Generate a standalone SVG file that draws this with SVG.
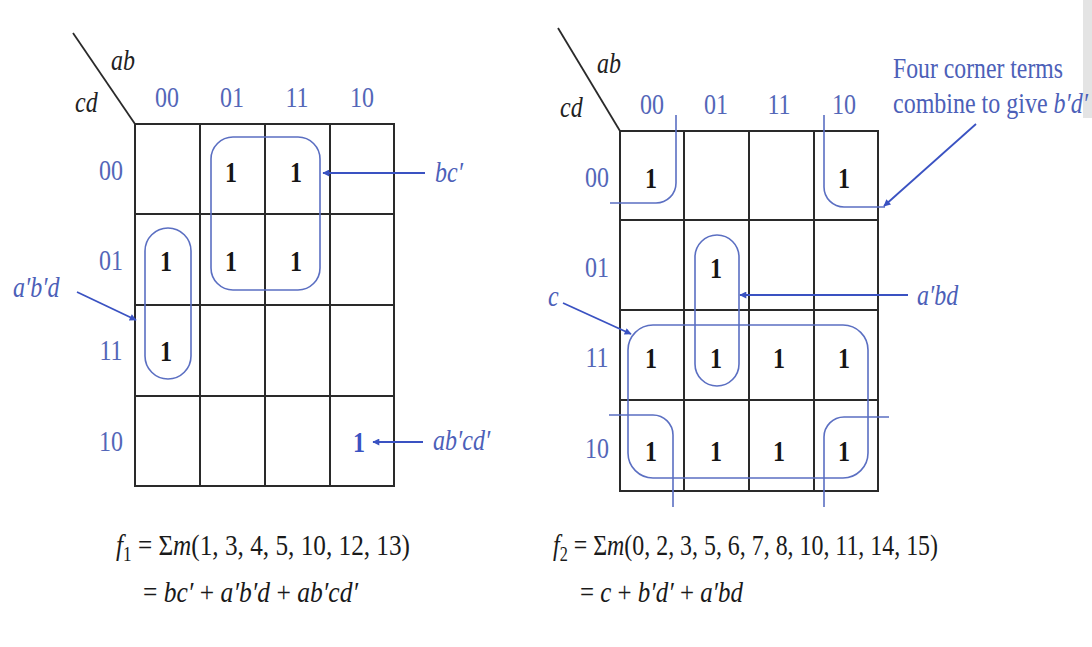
<svg xmlns="http://www.w3.org/2000/svg" width="1092" height="647" viewBox="0 0 1092 647">
<defs>
<marker id="ah" viewBox="0 0 10 10" refX="9" refY="5" markerWidth="9" markerHeight="7" markerUnits="userSpaceOnUse" orient="auto">
<path d="M0,0 L10,5 L0,10 z" fill="#3a52c2"/>
</marker>
</defs>
<style>
text{font-family:"Liberation Serif","Times New Roman",serif}
.lbl{font-size:24px;fill:#5366b8;text-anchor:middle}
.var{font-size:24px;font-style:italic;fill:#222}
.one{font-size:24px;font-weight:bold;fill:#151515;text-anchor:middle}
.note{font-size:24px;font-style:italic;fill:#4c60b8}
.noteu{font-size:24px;fill:#4c60b8}
.eq{font-size:25px;fill:#1a1a1a}
.i{font-style:italic}
.grid{fill:none;stroke:#2a2a2a;stroke-width:2}
.loop{fill:none;stroke:#5b6fc2;stroke-width:1.6}
.arr{fill:none;stroke:#3a52c2;stroke-width:1.8;marker-end:url(#ah)}
</style>
<rect width="1092" height="647" fill="#ffffff"/>
<rect x="1083" y="0" width="9" height="118" fill="#e4e4e4"/>

<g id="map-f1">
<path class="grid" d="M135,124 H394 V486 H135 Z M200,124 V486 M265,124 V486 M330,124 V486 M135,214 H394 M135,305 H394 M135,396 H394"/>
<line x1="73" y1="33" x2="135" y2="124" stroke="#2a2a2a" stroke-width="1.8"/>
<text class="var" transform="translate(111 70) scale(1 1.2)">ab</text>
<text class="var" transform="translate(75 112) scale(1 1.2)">cd</text>
<text class="lbl" transform="translate(167 107) scale(1 1.2)">00</text>
<text class="lbl" transform="translate(232 107) scale(1 1.2)">01</text>
<text class="lbl" transform="translate(297 107) scale(1 1.2)">11</text>
<text class="lbl" transform="translate(362 107) scale(1 1.2)">10</text>
<text class="lbl" transform="translate(111 180) scale(1 1.2)">00</text>
<text class="lbl" transform="translate(111 270) scale(1 1.2)">01</text>
<text class="lbl" transform="translate(111 360) scale(1 1.2)">11</text>
<text class="lbl" transform="translate(111 451) scale(1 1.2)">10</text>
<text class="one" transform="translate(231 182) scale(1 1.2)">1</text>
<text class="one" transform="translate(296 182) scale(1 1.2)">1</text>
<text class="one" transform="translate(166 271) scale(1 1.2)">1</text>
<text class="one" transform="translate(231 271) scale(1 1.2)">1</text>
<text class="one" transform="translate(296 271) scale(1 1.2)">1</text>
<text class="one" transform="translate(166 361) scale(1 1.2)">1</text>
<text class="one" style="fill:#3a52c2" transform="translate(359 452) scale(1 1.2)">1</text>
<rect class="loop" x="211" y="137" width="109" height="153" rx="22"/>
<rect class="loop" x="145" y="228" width="46" height="151" rx="23"/>
<text class="note" transform="translate(435 182) scale(1 1.2)">bc′</text>
<text class="note" transform="translate(13 297) scale(1 1.2)">a′b′d</text>
<text class="note" transform="translate(433 450) scale(1 1.2)">ab′cd′</text>
</g>

<g id="map-f2">
<path class="grid" d="M620,131 H878 V491 H620 Z M684,131 V491 M749,131 V491 M814,131 V491 M620,220 H878 M620,310 H878 M620,400 H878"/>
<line x1="558" y1="28" x2="620" y2="131" stroke="#2a2a2a" stroke-width="1.8"/>
<text class="var" transform="translate(597 73) scale(1 1.2)">ab</text>
<text class="var" transform="translate(560 117) scale(1 1.2)">cd</text>
<text class="lbl" transform="translate(652 114) scale(1 1.2)">00</text>
<text class="lbl" transform="translate(716 114) scale(1 1.2)">01</text>
<text class="lbl" transform="translate(779 114) scale(1 1.2)">11</text>
<text class="lbl" transform="translate(844 114) scale(1 1.2)">10</text>
<text class="lbl" transform="translate(597 187) scale(1 1.2)">00</text>
<text class="lbl" transform="translate(597 277) scale(1 1.2)">01</text>
<text class="lbl" transform="translate(597 367) scale(1 1.2)">11</text>
<text class="lbl" transform="translate(597 458) scale(1 1.2)">10</text>
<text class="one" transform="translate(651 188) scale(1 1.2)">1</text>
<text class="one" transform="translate(844 188) scale(1 1.2)">1</text>
<text class="one" transform="translate(716 278) scale(1 1.2)">1</text>
<text class="one" transform="translate(651 368) scale(1 1.2)">1</text>
<text class="one" transform="translate(716 368) scale(1 1.2)">1</text>
<text class="one" transform="translate(779 368) scale(1 1.2)">1</text>
<text class="one" transform="translate(844 368) scale(1 1.2)">1</text>
<text class="one" transform="translate(651 461) scale(1 1.2)">1</text>
<text class="one" transform="translate(716 461) scale(1 1.2)">1</text>
<text class="one" transform="translate(779 461) scale(1 1.2)">1</text>
<text class="one" transform="translate(844 461) scale(1 1.2)">1</text>
<path class="loop" d="M610,203 H656 A20,20 0 0 0 676,183 V115"/>
<path class="loop" d="M824,115 V187 A20,20 0 0 0 844,207 H885"/>
<path class="loop" d="M609,415 H653 A20,20 0 0 1 673,435 V507"/>
<path class="loop" d="M889,417 H844 A20,20 0 0 0 824,437 V507"/>
<rect class="loop" x="628" y="325" width="240" height="153" rx="25"/>
<rect class="loop" x="695" y="235" width="44" height="151" rx="22"/>
<text class="note" transform="translate(548 306) scale(1 1.2)">c</text>
<text class="note" transform="translate(917 305) scale(1 1.2)">a′bd</text>
<text class="noteu" transform="translate(893 78) scale(1 1.2)" textLength="170" lengthAdjust="spacingAndGlyphs">Four corner terms</text>
<text class="noteu" transform="translate(893 113) scale(1 1.2)">combine to give <tspan class="i">b′d′</tspan></text>
</g>

<g id="connectors">
<line class="arr" x1="425" y1="173" x2="323" y2="173"/>
<line class="arr" x1="77" y1="292" x2="136" y2="320"/>
<line class="arr" x1="423" y1="442" x2="373" y2="442"/>
<line class="arr" x1="908" y1="295" x2="740" y2="295"/>
<line class="arr" x1="563" y1="303" x2="631" y2="334"/>
<line class="arr" x1="976" y1="124" x2="884" y2="206"/>
</g>

<g id="equations">
<text class="eq" transform="translate(116 555) scale(1 1.2)" textLength="294" lengthAdjust="spacingAndGlyphs"><tspan class="i">f</tspan><tspan font-size="17" dy="5">1</tspan><tspan dy="-5"> = Σ</tspan><tspan class="i">m</tspan>(1, 3, 4, 5, 10, 12, 13)</text>
<text class="eq" transform="translate(143 602) scale(1 1.2)" textLength="215" lengthAdjust="spacingAndGlyphs">= <tspan class="i">bc′</tspan> + <tspan class="i">a′b′d</tspan> + <tspan class="i">ab′cd′</tspan></text>
<text class="eq" transform="translate(553 555) scale(1 1.2)" textLength="385" lengthAdjust="spacingAndGlyphs"><tspan class="i">f</tspan><tspan font-size="17" dy="5">2</tspan><tspan dy="-5"> = Σ</tspan><tspan class="i">m</tspan>(0, 2, 3, 5, 6, 7, 8, 10, 11, 14, 15)</text>
<text class="eq" transform="translate(580 602) scale(1 1.2)" textLength="163" lengthAdjust="spacingAndGlyphs">= <tspan class="i">c</tspan> + <tspan class="i">b′d′</tspan> + <tspan class="i">a′bd</tspan></text>
</g>
</svg>
